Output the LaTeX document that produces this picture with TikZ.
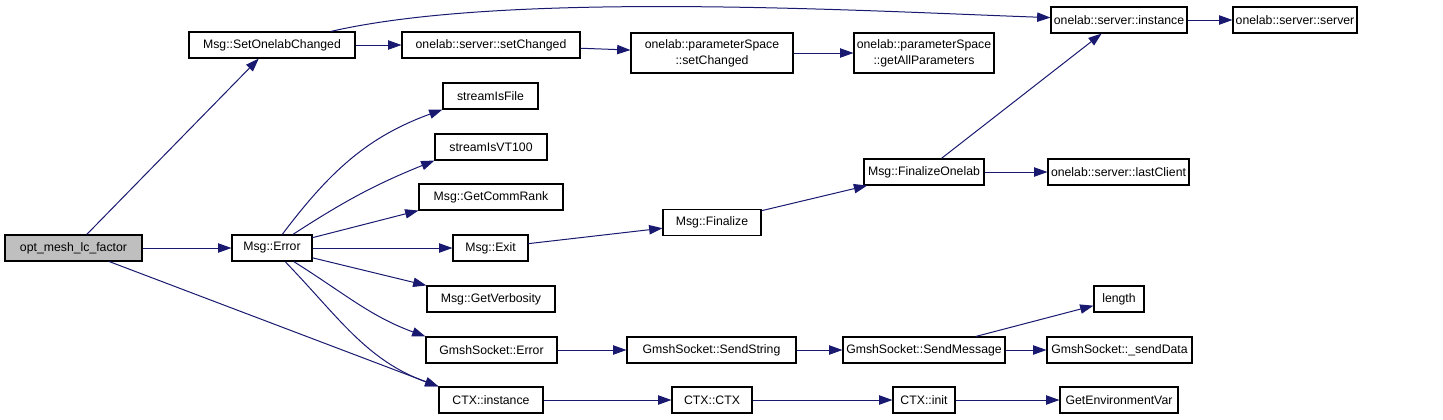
\documentclass[tikz,border=0pt]{standalone}
\usepackage{fontspec}
\setmainfont{Liberation Sans}
\usetikzlibrary{arrows.meta}
\definecolor{edgeblue}{HTML}{191970}
\definecolor{rootgray}{HTML}{BFBFBF}

\begin{document}
\begin{tikzpicture}[
    x=0.75pt, y=0.75pt,
    fn/.style={draw=black, fill=white, line width=0.8pt, inner sep=0pt,
      minimum height=19.5pt, align=center, font=\fontsize{9.2}{11.8}\selectfont},
    wd/.style={minimum width=#1*0.75pt},
    two/.style={minimum height=30pt},
    root/.style={fn, fill=rootgray},
    call/.style={-{Triangle[length=10pt, width=7pt]}, draw=edgeblue, line width=0.75pt},
]
\useasboundingbox (0,0) rectangle (1443,-419);
% callers and callees, one column after the other
\node[root, wd=137] (opt) at (73.5,-248) {opt\_mesh\_lc\_factor};
\node[fn, wd=166] (setol) at (272,-45) {Msg::SetOnelabChanged};
\node[fn, wd=80] (err) at (272,-248) {Msg::Error};
\node[fn, wd=178] (setch) at (491,-45) {onelab::server::setChanged};
\node[fn, wd=95] (sfile) at (490.5,-96) {streamIsFile};
\node[fn, wd=112] (svt) at (491,-147) {streamIsVT100};
\node[fn, wd=144] (crank) at (491,-197) {Msg::GetCommRank};
\node[fn, wd=75] (exit) at (490.5,-248) {Msg::Exit};
\node[fn, wd=128] (verb) at (491,-299) {Msg::GetVerbosity};
\node[fn, wd=131] (gerr) at (491.5,-350) {GmshSocket::Error};
\node[fn, wd=104] (ctxinst) at (491,-400) {CTX::instance};
\node[fn, two, wd=162] (pssetch) at (712,-53) {onelab::parameterSpace\\::setChanged};
\node[fn, wd=98] (fin) at (712,-222.5) {Msg::Finalize};
\node[fn, wd=169] (sendstr) at (711.5,-350) {GmshSocket::SendString};
\node[fn, wd=80] (ctxctx) at (712,-400) {CTX::CTX};
\node[fn, two, wd=140] (psgetall) at (924,-53) {onelab::parameterSpace\\::getAllParameters};
\node[fn, wd=120] (fonl) at (924,-172) {Msg::FinalizeOnelab};
\node[fn, wd=162] (sendmsg) at (924,-350) {GmshSocket::SendMessage};
\node[fn, wd=62] (ctxinit) at (924,-400) {CTX::init};
\node[fn, wd=136] (srvinst) at (1119,-20) {onelab::server::instance};
\node[fn, wd=141] (lastcl) at (1118.5,-172) {onelab::server::lastClient};
\node[fn, wd=50] (len) at (1119,-299) {length};
\node[fn, wd=145] (senddata) at (1119.5,-350) {GmshSocket::\_sendData};
\node[fn, wd=118] (genv) at (1119,-400) {GetEnvironmentVar};
\node[fn, wd=124] (srvsrv) at (1295,-20) {onelab::server::server};
% straight calls
\foreach \a/\b in {opt/setol, opt/err, setol/setch, setch/pssetch, pssetch/psgetall,
    srvinst/srvsrv, err/exit, exit/fin, fin/fonl, fonl/srvinst, fonl/lastcl,
    gerr/sendstr, sendstr/sendmsg, sendmsg/senddata, sendmsg/len,
    ctxinst/ctxctx, ctxctx/ctxinit, ctxinit/genv} {
  \draw[call] (\a) -- (\b);
}
\draw[call] (opt) -- (ctxinst.north west);
\draw[call] (err) -- (crank.south west);
\draw[call] (err) -- (verb.north west);
% bent calls
\draw[call] (setol) to[out=13, in=178, looseness=0.65] (srvinst);
\draw[call] (err) to[out=53, in=200] (sfile.south west);
\draw[call] (err) to[out=33, in=202] (svt.south west);
\draw[call] (err) to[out=-32, in=160] (gerr.north west);
\draw[call] (err) to[out=-46, in=160] (ctxinst.north west);
\end{tikzpicture}
\end{document}
